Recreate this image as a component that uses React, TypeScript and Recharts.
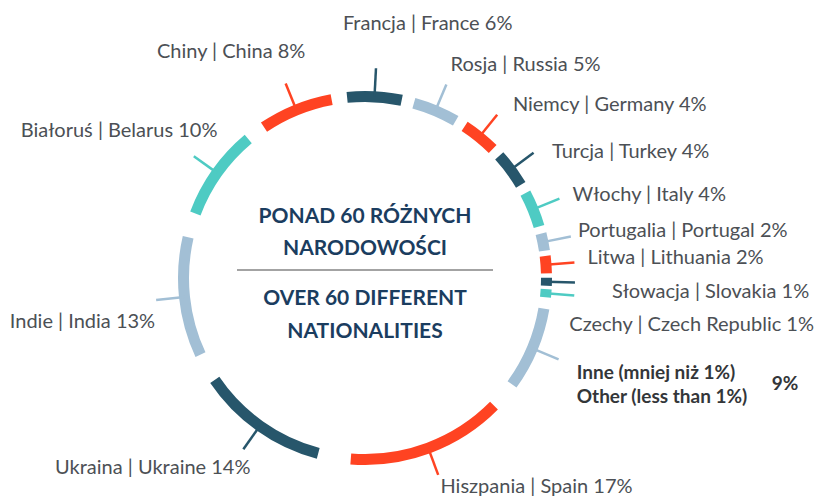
import { PieChart, Pie, Sector } from "recharts";

const countriesPl = [
  "Francja", "Rosja", "Niemcy", "Turcja", "Włochy", "Portugalia", "Litwa", "Słowacja",
  "Czechy", "Inne (mniej niż 1%)", "Hiszpania", "Ukraina", "Indie", "Białoruś", "Chiny",
];
const countriesEn = [
  "France", "Russia", "Germany", "Turkey", "Italy", "Portugal", "Lithuania", "Slovakia",
  "Czech Republic", "Other (less than 1%)", "Spain", "Ukraine", "India", "Belarus", "China",
];
const shares = [6, 5, 4, 4, 4, 2, 2, 1, 1, 9, 17, 14, 13, 10, 8];

const DARK = "#27566b";
const RED = "#ff4322";
const LIGHT = "#a2bfd5";
const TEAL = "#4ecbc3";
const segmentColors = [DARK, LIGHT, RED, DARK, TEAL, LIGHT, RED, DARK, TEAL, LIGHT, RED, DARK, LIGHT, TEAL, RED];

// label offset from the tick end, in px
const labelNudges: [number, number][] = [
  [-33, -48], [5, -23], [17, -13], [20, -4], [15, -6], [9, -8], [15, -7], [39, 8],
  [-3, 28], [20, 13], [3, 12], [6, 18], [-3, 20], [22, -29], [19, -35],
];
const OTHER = 9;

const pieData = shares.map((v, i) => ({ name: countriesEn[i], value: v }));

const RAD = Math.PI / 180;
const polar = (cx: number, cy: number, r: number, a: number) => ({
  x: cx + r * Math.cos(-a * RAD),
  y: cy + r * Math.sin(-a * RAD),
});

const labelFont = "Lato, 'Noto Sans', sans-serif";

function renderSegment(props: any) {
  const { cx, cy, innerRadius, outerRadius, startAngle, endAngle, midAngle, index } = props;
  const color = segmentColors[index];
  const dir = Math.sign(endAngle - startAngle);
  const trim = Math.abs(endAngle - startAngle) * 0.09 + 0.2;
  const t0 = polar(cx, cy, (innerRadius + outerRadius) / 2, midAngle);
  const t1 = polar(cx, cy, outerRadius + 23, midAngle);
  const anchorPt = polar(cx, cy, outerRadius + 21, midAngle);
  const [dx, dy] = labelNudges[index];
  const anchor = anchorPt.x > cx ? "start" : "end";
  const lx = anchorPt.x + dx;
  const ly = anchorPt.y + dy;

  return (
    <g key={`seg-${index}`}>
      <Sector
        cx={cx}
        cy={cy}
        innerRadius={innerRadius}
        outerRadius={outerRadius}
        startAngle={startAngle + dir * trim}
        endAngle={endAngle - dir * trim}
        fill={color}
        stroke="none"
      />
      <line x1={t0.x} y1={t0.y} x2={t1.x} y2={t1.y} stroke={color} strokeWidth={2.5} />
      {index === OTHER ? (
        <g fontFamily={labelFont} fontWeight={700} fontSize={19} fill="#333639">
          <text x={lx} y={ly} dominantBaseline="central">{countriesPl[index]}</text>
          <text x={lx} y={ly + 24} dominantBaseline="central">{countriesEn[index]}</text>
          <text x={lx + 195} y={ly + 11} dominantBaseline="central">{`${shares[index]}%`}</text>
        </g>
      ) : (
        <text
          x={lx}
          y={ly}
          textAnchor={anchor}
          dominantBaseline="central"
          fontFamily={labelFont}
          fontSize={20}
          fill="#4c5055"
        >
          {`${countriesPl[index]} | ${countriesEn[index]} ${shares[index]}%`}
        </text>
      )}
    </g>
  );
}

const centerLine = (top: number, text: string) => (
  <div
    style={{
      position: "absolute",
      left: 215,
      width: 300,
      top: top - 14,
      height: 28,
      lineHeight: "28px",
      textAlign: "center",
      fontFamily: labelFont,
      fontWeight: 700,
      fontSize: 21,
      color: "#1b3d5f",
      whiteSpace: "nowrap",
    }}
  >
    {text}
  </div>
);

export default function App() {
  return (
    <div style={{ position: "absolute", left: 0, top: 0, width: 818, height: 496, background: "#fff" }}>
      <PieChart width={818} height={496} margin={{ top: 0, right: 0, bottom: 0, left: 0 }}>
        <Pie
          data={pieData}
          dataKey="value"
          cx={365}
          cy={278}
          innerRadius={176}
          outerRadius={187}
          startAngle={97.8}
          endAngle={-262.2}
          paddingAngle={0}
          fill="none"
          stroke="none"
          label={renderSegment}
          labelLine={false}
          isAnimationActive={false}
        />
      </PieChart>
      {centerLine(215, "PONAD 60 RÓŻNYCH")}
      {centerLine(247, "NARODOWOŚCI")}
      <div style={{ position: "absolute", left: 237, width: 256, top: 269, height: 2, background: "#a3a3a3" }} />
      {centerLine(297, "OVER 60 DIFFERENT")}
      {centerLine(330, "NATIONALITIES")}
    </div>
  );
}
